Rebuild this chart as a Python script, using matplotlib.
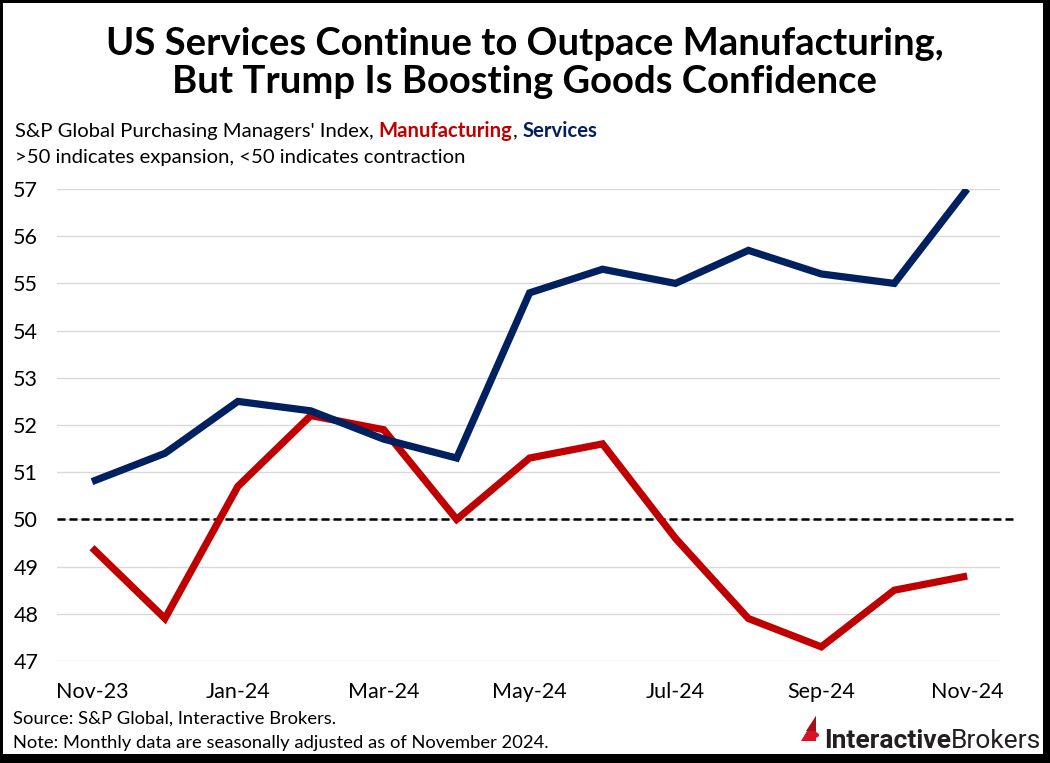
import matplotlib
matplotlib.use("Agg")
import matplotlib.pyplot as plt
from matplotlib.patches import Rectangle, Polygon, Circle

plt.rcParams['font.family'] = ['Lato', 'DejaVu Sans']

months = ["Nov-23", "Dec-23", "Jan-24", "Feb-24", "Mar-24", "Apr-24", "May-24",
          "Jun-24", "Jul-24", "Aug-24", "Sep-24", "Oct-24", "Nov-24"]
services = [50.8, 51.4, 52.5, 52.3, 51.7, 51.3, 54.8, 55.3, 55.0, 55.7, 55.2, 55.0, 57.0]
manufacturing = [49.4, 47.9, 50.7, 52.2, 51.9, 50.0, 51.3, 51.6, 49.6, 47.9, 47.3, 48.5, 48.8]
yticks = list(range(47, 58))

RED = "#C00000"
NAVY = "#002060"

fig = plt.figure(figsize=(10.5, 7.63), dpi=100)
W, H = 1050, 763

def fx(px):
    return px / W

def fy(py):
    return 1 - py / H

# frame with shadow on right/bottom
fig.patches.append(Rectangle((fx(0), fy(763)), fx(1050), 1, transform=fig.transFigure,
                             facecolor="black", edgecolor="none", zorder=-20))
fig.patches.append(Rectangle((fx(3), fy(754)), fx(1040), fy(3) - fy(754), transform=fig.transFigure,
                             facecolor="white", edgecolor="none", zorder=-19))

fig.text(0.5, fy(63), "US Services Continue to Outpace Manufacturing,\nBut Trump Is Boosting Goods Confidence",
         ha="center", va="center", fontsize=27.5, fontweight="bold", linespacing=1.15)

fs = 14.6
r = fig.canvas.get_renderer()
t1 = fig.text(fx(15), fy(131), "S&P Global Purchasing Managers' Index, ", fontsize=fs, va="center")
bb = t1.get_window_extent(r)
t2 = fig.text(bb.x1 / W, fy(131), "Manufacturing", fontsize=fs, va="center", color=RED, fontweight="bold")
bb2 = t2.get_window_extent(r)
t3 = fig.text(bb2.x1 / W, fy(131), ", ", fontsize=fs, va="center")
bb3 = t3.get_window_extent(r)
fig.text(bb3.x1 / W, fy(131), "Services", fontsize=fs, va="center", color=NAVY, fontweight="bold")
fig.text(fx(15), fy(158), ">50 indicates expansion, <50 indicates contraction", fontsize=fs, va="center")

ax = fig.add_axes([fx(57), fy(661), fx(1000) - fx(57), fy(189) - fy(661)])
x = list(range(len(months)))
ax.plot(x, manufacturing, color=RED, lw=5.2, solid_capstyle="butt", solid_joinstyle="miter", zorder=3)
ax.plot(x, services, color=NAVY, lw=5.2, solid_capstyle="butt", solid_joinstyle="miter", zorder=4)
ax.plot([0, 1.014], [50, 50], transform=ax.get_yaxis_transform(), clip_on=False,
        color="black", lw=1.8, ls=(0, (3.2, 1.6)), zorder=2)

ax.set_xlim(-0.48, 12.45)
ax.set_ylim(47, 57)
ax.set_yticks(yticks)
ax.set_xticks(x[::2])
ax.set_xticklabels(months[::2])
ax.grid(axis="y", color="#D9D9D9", lw=1)
ax.set_axisbelow(True)
for s in ax.spines.values():
    s.set_visible(False)
ax.tick_params(length=0, labelsize=15.5)
ax.tick_params(axis="y", pad=31.5)
for lab in ax.get_yticklabels():
    lab.set_horizontalalignment("left")
ax.tick_params(axis="x", pad=15)
ax.set_facecolor("none")

fs2 = 13.2
fig.text(fx(13), fy(719), "Source: S&P Global, Interactive Brokers.", fontsize=fs2, va="center")
fig.text(fx(13), fy(743), "Note: Monthly data are seasonally adjusted as of November 2024.", fontsize=fs2, va="center")

# logo
fig.patches.append(Polygon([[fx(801), fy(741)], [fx(816), fy(716)], [fx(816), fy(741)]], closed=True,
                           transform=fig.transFigure, facecolor="#D81222", edgecolor="none"))
fig.patches.append(Polygon([[fx(806), fy(731)], [fx(816), fy(716)], [fx(816), fy(731)]], closed=True,
                           transform=fig.transFigure, facecolor="#A50F1A", edgecolor="none"))
fig.patches.append(Circle((fx(815), fy(735)), 0.0038, transform=fig.transFigure,
                          facecolor="#D81222", edgecolor="none"))
t4 = fig.text(fx(824), fy(741), "Interactive", fontsize=19, fontweight="bold", color="#231F20",
              va="center", family=["Roboto", "DejaVu Sans"])
bb4 = t4.get_window_extent(r)
fig.text(bb4.x1 / W, fy(741), "Brokers", fontsize=19, color="#231F20", va="center",
         family=["Roboto", "DejaVu Sans"])

fig.savefig("out.png", dpi=100)
